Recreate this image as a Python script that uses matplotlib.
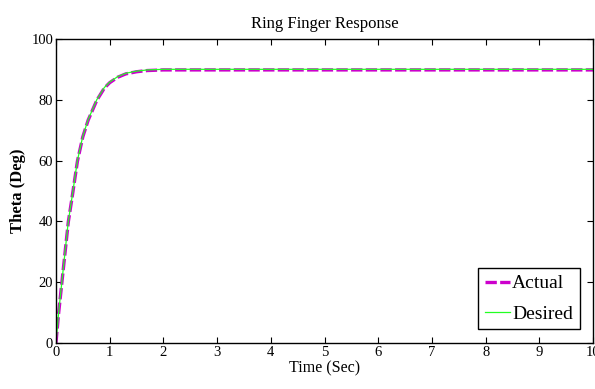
import numpy as np
import matplotlib.pyplot as plt

plt.rcParams['font.family'] = ['Liberation Serif', 'DejaVu Serif']

# values
time_s = [0, 0.05, 0.11, 0.17, 0.23, 0.30, 0.40, 0.50, 0.60, 0.76, 0.90,
          1.00, 1.15, 1.30, 1.50, 1.70, 2.00, 2.50, 3, 4, 5, 6, 7, 8, 9, 10]
desired = [0, 10, 20, 30, 40, 48, 60, 68, 73.5, 80, 84,
           85.8, 87.6, 88.7, 89.4, 89.8, 90, 90, 90, 90, 90, 90, 90, 90, 90, 90]
actual = [0, 9.8, 19.8, 29.8, 39.8, 47.8, 59.8, 67.8, 73.3, 79.8, 83.8,
          85.6, 87.4, 88.5, 89.2, 89.6, 89.8, 89.8, 89.8, 89.8, 89.8, 89.8,
          89.8, 89.8, 89.8, 89.8]
xticks = list(range(0, 11))
yticks = [0, 20, 40, 60, 80, 100]

fig = plt.figure(figsize=(5.95, 3.89), dpi=100)
ax = fig.add_axes([0.094, 0.118, 0.903, 0.782])

ax.plot(time_s, actual, color='#cc00cc', lw=2.4, dashes=(3.4, 1.0), label='Actual')
ax.plot(time_s, desired, color='#22ff22', lw=0.9, label='Desired')

ax.set_xlim(0, 10)
ax.set_ylim(0, 100)
ax.set_xticks(xticks)
ax.set_yticks(yticks)
ax.tick_params(direction='in', length=4, width=0.8, top=True, right=True,
               labelsize=10.5, pad=2)
for s in ax.spines.values():
    s.set_linewidth(1.0)

ax.set_title('Ring Finger Response', fontsize=12, pad=8)
ax.set_xlabel('Time (Sec)', fontsize=11.5, labelpad=1)
ax.set_ylabel('Theta (Deg)', fontsize=12, fontweight='bold', labelpad=4)

leg = ax.legend(loc='lower right', fontsize=14, handlelength=1.3,
                handletextpad=0.1, borderpad=0.35, labelspacing=0.65,
                borderaxespad=0.7, fancybox=False, framealpha=1)
leg.get_frame().set_edgecolor('black')
leg.get_frame().set_linewidth(1.0)

plt.savefig('out.png', dpi=100)
